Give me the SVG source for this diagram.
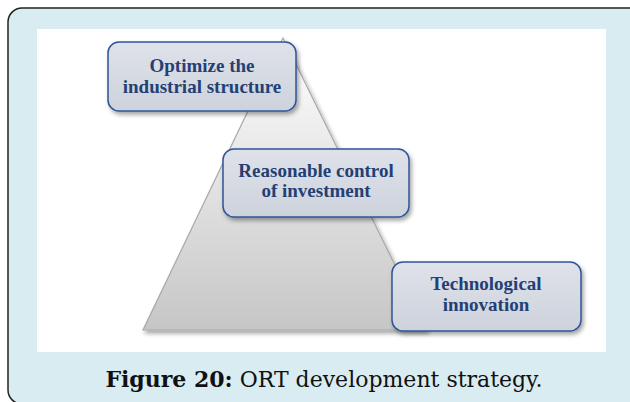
<svg xmlns="http://www.w3.org/2000/svg" width="630" height="402" viewBox="0 0 630 402">
<defs>
<linearGradient id="tri" x1="0" y1="0" x2="0" y2="1">
<stop offset="0" stop-color="#ffffff"/>
<stop offset="1" stop-color="#c6c6c6"/>
</linearGradient>
<linearGradient id="box" x1="0" y1="0" x2="0" y2="1">
<stop offset="0" stop-color="#dfe2ea"/>
<stop offset="1" stop-color="#cdd2dc"/>
</linearGradient>
<filter id="sh" x="-10%" y="-10%" width="130%" height="140%">
<feDropShadow dx="2" dy="3" stdDeviation="2" flood-color="#000" flood-opacity="0.35"/>
</filter>
<style>
.node rect{fill:url(#box);stroke:#2f5597;stroke-width:1.5;filter:url(#sh)}
.lbl{font-family:"Liberation Serif",serif;font-weight:bold;font-size:19px;fill:#243f74;text-anchor:middle}
.cap{font-family:"DejaVu Serif",serif;font-size:22px;fill:#111;text-anchor:middle}
</style>
</defs>
<rect x="8" y="8" width="640" height="396" rx="14" fill="#d9ecf2" stroke="#222" stroke-width="1.5"/>
<rect x="37" y="29" width="569" height="323" fill="#ffffff"/>
<g id="connectors">
<polygon points="283,38 143,330 427,330" fill="url(#tri)" stroke="#a8a8a8" stroke-width="1.2" filter="url(#sh)"/>
</g>
<g id="n1" class="node">
<rect x="108" y="42" width="188" height="69" rx="11"/>
<text class="lbl" x="202" y="72">Optimize the</text>
<text class="lbl" x="202" y="93">industrial structure</text>
</g>
<g id="n2" class="node">
<rect x="223" y="149" width="186" height="68" rx="11"/>
<text class="lbl" x="316" y="177">Reasonable control</text>
<text class="lbl" x="316" y="197">of investment</text>
</g>
<g id="n3" class="node">
<rect x="392" y="262" width="189" height="69" rx="11"/>
<text class="lbl" x="486" y="290">Technological</text>
<text class="lbl" x="486" y="311">innovation</text>
</g>
<text class="cap" x="324" y="387"><tspan font-weight="bold">Figure 20:</tspan> ORT development strategy.</text>
</svg>
